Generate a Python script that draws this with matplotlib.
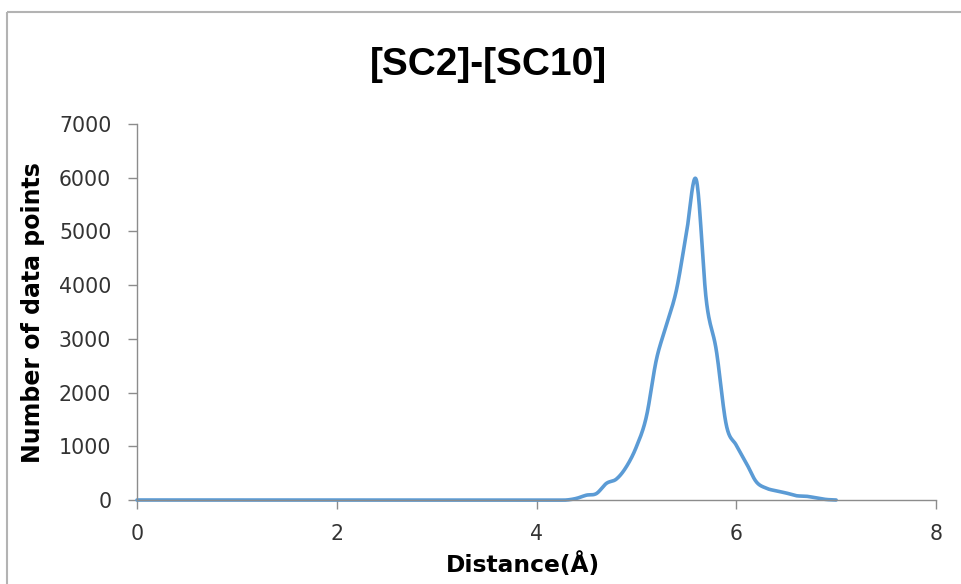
import numpy as np
import matplotlib
matplotlib.use("Agg")
import matplotlib.pyplot as plt
from matplotlib.lines import Line2D

# Distance histogram (bin centres every 0.1 Å) and counts per bin
distance = np.round(np.arange(0.0, 7.0001, 0.1), 1)
counts_tail = {
    4.4: 30, 4.5: 90, 4.6: 120, 4.7: 310, 4.8: 390, 4.9: 620,
    5.0: 990, 5.1: 1550, 5.2: 2610, 5.3: 3250, 5.4: 3900, 5.5: 4950,
    5.6: 5960, 5.7: 3720, 5.8: 2790, 5.9: 1400, 6.0: 1020, 6.1: 690,
    6.2: 340, 6.3: 220, 6.4: 170, 6.5: 130, 6.6: 80, 6.7: 70,
    6.8: 40, 6.9: 10, 7.0: 0,
}
counts = np.array([counts_tail.get(float(d), 0) for d in distance], dtype=float)

x_ticks = [0, 2, 4, 6, 8]
y_ticks = [0, 1000, 2000, 3000, 4000, 5000, 6000, 7000]
title_text = "[SC2]-[SC10]"
x_label = "Distance(Å)"
y_label = "Number of data points"


def smooth_line(x, y, steps=20):
    """Catmull-Rom style smoothing similar to spreadsheet 'smoothed line'."""
    px = np.concatenate([[x[0]], x, [x[-1]]])
    py = np.concatenate([[y[0]], y, [y[-1]]])
    xs, ys = [], []
    t = np.linspace(0, 1, steps, endpoint=False)
    for i in range(1, len(px) - 2):
        p0, p1, p2, p3 = (np.array([px[j], py[j]]) for j in range(i - 1, i + 3))
        c1 = p1 + (p2 - p0) / 6.0
        c2 = p2 - (p3 - p1) / 6.0
        b = ((1 - t) ** 3)[:, None] * p1 + (3 * (1 - t) ** 2 * t)[:, None] * c1 \
            + (3 * (1 - t) * t ** 2)[:, None] * c2 + (t ** 3)[:, None] * p2
        xs.append(b[:, 0])
        ys.append(b[:, 1])
    xs.append([x[-1]])
    ys.append([y[-1]])
    return np.concatenate(xs), np.concatenate(ys)


fig = plt.figure(figsize=(9.61, 5.84), dpi=100)
fig.patch.set_facecolor("white")

# chart-area border (top and left edges; the rest runs off the canvas)
border_x, border_y = 7 / 961, 1 - 12 / 584
fig.add_artist(Line2D([border_x, 1.05], [border_y, border_y], transform=fig.transFigure,
                      color="#b3b3b3", linewidth=1.5, solid_capstyle="butt"))
fig.add_artist(Line2D([border_x, border_x], [-0.05, border_y], transform=fig.transFigure,
                      color="#b3b3b3", linewidth=1.5, solid_capstyle="butt"))

ax = fig.add_axes([137 / 961, 1 - 500 / 584, (936 - 137) / 961, (500 - 124) / 584])

sx, sy = smooth_line(distance, counts)
ax.plot(sx, sy, color="#5B9BD5", linewidth=2.6, solid_capstyle="round",
        solid_joinstyle="round", clip_on=False)

ax.set_xlim(0, 8)
ax.set_ylim(0, 7000)
ax.set_xticks(x_ticks)
ax.set_yticks(y_ticks)
ax.set_xticklabels([str(v) for v in x_ticks])
ax.set_yticklabels([str(v) for v in y_ticks])

for side in ("top", "right"):
    ax.spines[side].set_visible(False)
for side in ("left", "bottom"):
    ax.spines[side].set_color("#8c8c8c")
    ax.spines[side].set_linewidth(1.0)

ax.tick_params(axis="both", direction="out", length=6.5, width=1.0,
               color="#8c8c8c", labelcolor="#333333", labelsize=14.8)
ax.tick_params(axis="y", pad=12)
ax.tick_params(axis="x", pad=11)
for lbl in ax.get_xticklabels() + ax.get_yticklabels():
    lbl.set_family("DejaVu Sans")

fig.text(488 / 961, 1 - 75 / 584, title_text, ha="center", va="baseline",
         fontsize=28, fontweight="bold", family="Liberation Sans", color="black")
fig.text(523 / 961, 1 - 572 / 584, x_label, ha="center", va="baseline",
         fontsize=16.8, fontweight="bold", family="DejaVu Sans", color="black")
fig.text(40 / 961, 1 - 313 / 584, y_label, ha="center", va="baseline",
         rotation=90, rotation_mode="anchor",
         fontsize=17, fontweight="bold", family="DejaVu Sans", color="black")

fig.savefig("out.png", dpi=100, facecolor="white")
